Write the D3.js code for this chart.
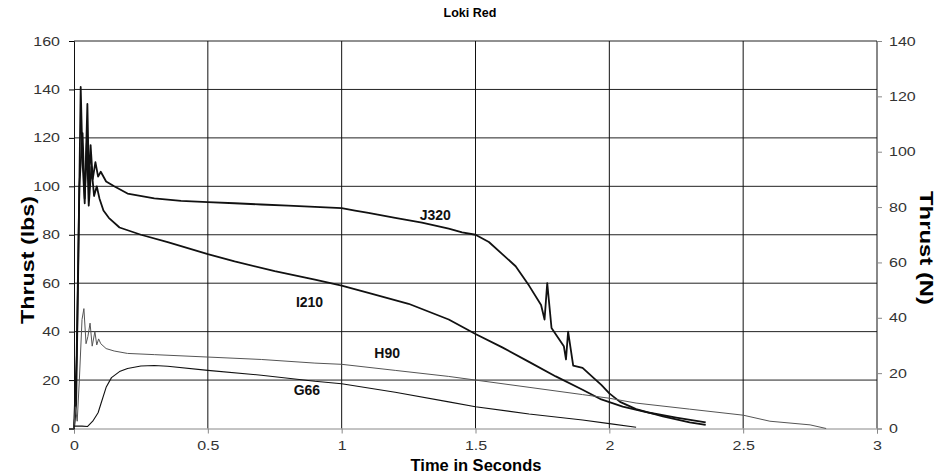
<!DOCTYPE html>
<html>
<head>
<meta charset="utf-8">
<script src="https://cdn.jsdelivr.net/npm/d3@7"></script>
<style>
body{margin:0;background:#fff}
text{font-family:"Liberation Sans",Arial,sans-serif}
</style>
</head>
<body>
<svg id="main_svg" width="940" height="476"></svg>
<script>
// values, [time s, thrust lbs]
let j320 = [[0,0],[0.008,10],[0.015,60],[0.025,141],[0.032,110],[0.04,93],[0.05,134],[0.056,100],[0.062,117],[0.07,103],[0.08,110],[0.09,104],[0.1,106],[0.12,102],[0.15,100],[0.2,97],[0.3,95],[0.4,94],[0.5,93.5],[0.6,93],[0.7,92.5],[0.8,92],[0.9,91.5],[1.0,91],[1.05,90],[1.1,89],[1.2,87],[1.3,85],[1.4,82.5],[1.45,81],[1.5,80],[1.55,77],[1.6,72],[1.65,67],[1.7,59],[1.745,51],[1.758,45],[1.768,60],[1.784,41.5],[1.83,34],[1.838,28.5],[1.846,40],[1.865,26],[1.9,25],[1.94,21],[1.97,18],[2.0,14.5],[2.04,11],[2.1,8],[2.2,5],[2.3,2.5],[2.36,1.5]]
let i210 = [[0,0],[0.01,30],[0.02,100],[0.032,122],[0.04,95],[0.048,118],[0.055,92],[0.065,108],[0.075,96],[0.085,100],[0.095,95],[0.11,90],[0.13,87],[0.17,83],[0.25,80],[0.35,77],[0.5,72],[0.6,69],[0.75,65],[0.9,61.5],[1.0,59],[1.1,56],[1.25,51.5],[1.4,45],[1.5,39],[1.6,33.5],[1.7,27.5],[1.8,21.5],[1.9,16],[1.97,12],[2.05,9],[2.15,6.5],[2.25,4.5],[2.36,2.5]]
let h90 = [[0,0],[0.005,9],[0.012,3],[0.02,20],[0.03,45],[0.037,49.5],[0.045,35],[0.052,38],[0.06,43.5],[0.068,34],[0.078,40],[0.085,34.5],[0.092,37],[0.1,35],[0.12,33],[0.15,32],[0.2,31],[0.3,30.5],[0.5,29.5],[0.7,28.5],[0.9,27],[1.0,26.5],[1.2,24],[1.4,21.5],[1.5,20],[1.7,17],[1.9,14],[2.0,12.5],[2.1,10.5],[2.3,8],[2.5,5.5],[2.6,3],[2.75,1.5],[2.81,0]]
let g66 = [[0,1],[0.03,1],[0.05,0.8],[0.07,3],[0.09,6.5],[0.1,10],[0.12,17],[0.14,21],[0.17,23.5],[0.2,24.8],[0.25,25.8],[0.3,26],[0.35,25.7],[0.5,24],[0.7,22],[0.9,19.5],[1.0,18.5],[1.2,15],[1.4,11],[1.5,9],[1.7,6],[1.9,3.5],[2.0,2],[2.1,0.5]]

let xTicks = [0,0.5,1,1.5,2,2.5,3]
let lbsTicks = [0,20,40,60,80,100,120,140,160]
let newtonTicks = [0,20,40,60,80,100,120,140]

let series = [
    {name:"J320", data:j320, color:"#111", w:1.8, lx:1.35, ly:86},
    {name:"I210", data:i210, color:"#111", w:1.8, lx:0.88, ly:50},
    {name:"H90", data:h90, color:"#555", w:1, lx:1.17, ly:29},
    {name:"G66", data:g66, color:"#111", w:1.1, lx:0.87, ly:14}
]

let svg = d3.select("svg")
let pLeft = 74, pRight = 877, pTop = 41, pBottom = 428.5

let x = d3.scaleLinear().domain([0,3]).range([pLeft,pRight])
let y = d3.scaleLinear().domain([0,160]).range([pBottom,pTop])
let y2 = d3.scaleLinear().domain([0,140]).range([pBottom,pTop])

// gridlines
svg.append("g")
    .selectAll("line")
    .data(lbsTicks.slice(1))
    .join("line")
    .attr("x1", pLeft).attr("x2", pRight)
    .attr("y1", d => y(d)).attr("y2", d => y(d))
    .attr("stroke", "#222")
svg.append("g")
    .selectAll("line")
    .data(xTicks.slice(1))
    .join("line")
    .attr("x1", d => x(d)).attr("x2", d => x(d))
    .attr("y1", pTop).attr("y2", pBottom)
    .attr("stroke", "#111")

// axes
let ax = svg.append("g")
    .attr("transform", "translate(0," + pBottom + ")")
    .call(d3.axisBottom(x).tickValues(xTicks).tickSize(5).tickPadding(8).tickFormat(d3.format("")))
let ay = svg.append("g")
    .attr("transform", "translate(" + pLeft + ",0)")
    .call(d3.axisLeft(y).tickValues(lbsTicks).tickSize(5).tickPadding(9))
let ay2 = svg.append("g")
    .attr("transform", "translate(" + pRight + ",0)")
    .call(d3.axisRight(y2).tickValues(newtonTicks).tickSize(5).tickPadding(7))

ax.select(".domain").attr("stroke", "#888")
ax.selectAll(".tick line").attr("stroke", "#888")
ay.select(".domain").attr("stroke", "#111")
ay2.select(".domain").attr("stroke", "#888")
ay2.selectAll(".tick line").attr("stroke", "#888")
// the old chart draws its numbers wide and short
svg.selectAll(".tick text")
    .attr("font-size", 12.5)
    .attr("fill", "#333")
    .attr("font-family", "Liberation Sans, Arial, sans-serif")
    .each(function(){
        let w = this.getComputedTextLength()
        d3.select(this).attr("textLength", w*1.28).attr("lengthAdjust", "spacingAndGlyphs")
    })

// thrust curves
let line = d3.line().x(d => x(d[0])).y(d => y(d[1]))
svg.append("g")
    .selectAll("path")
    .data(series)
    .join("path")
    .attr("d", d => line(d.data))
    .attr("fill", "none")
    .attr("stroke", d => d.color)
    .attr("stroke-width", d => d.w)
    .attr("stroke-linejoin", "round")

svg.append("g")
    .selectAll("text")
    .data(series)
    .join("text")
    .attr("x", d => x(d.lx))
    .attr("y", d => y(d.ly))
    .attr("text-anchor", "middle")
    .attr("font-size", 14)
    .attr("font-weight", "bold")
    .attr("fill", "#111")
    .text(d => d.name)

// titles
svg.append("text")
    .attr("x", 470).attr("y", 17)
    .attr("text-anchor", "middle")
    .attr("font-size", 12.5).attr("font-weight", "bold")
    .text("Loki Red")
svg.append("text")
    .attr("x", 476).attr("y", 471)
    .attr("text-anchor", "middle")
    .attr("font-size", 16.5).attr("font-weight", "bold")
    .text("Time in Seconds")
svg.append("text")
    .attr("transform", "translate(34,260) rotate(-90)")
    .attr("text-anchor", "middle")
    .attr("font-size", 19).attr("font-weight", "bold")
    .attr("textLength", 128).attr("lengthAdjust", "spacingAndGlyphs")
    .text("Thrust (lbs)")
svg.append("text")
    .attr("transform", "translate(920,248) rotate(90)")
    .attr("text-anchor", "middle")
    .attr("font-size", 19).attr("font-weight", "bold")
    .attr("textLength", 114).attr("lengthAdjust", "spacingAndGlyphs")
    .text("Thrust (N)")
</script>
</body>
</html>
